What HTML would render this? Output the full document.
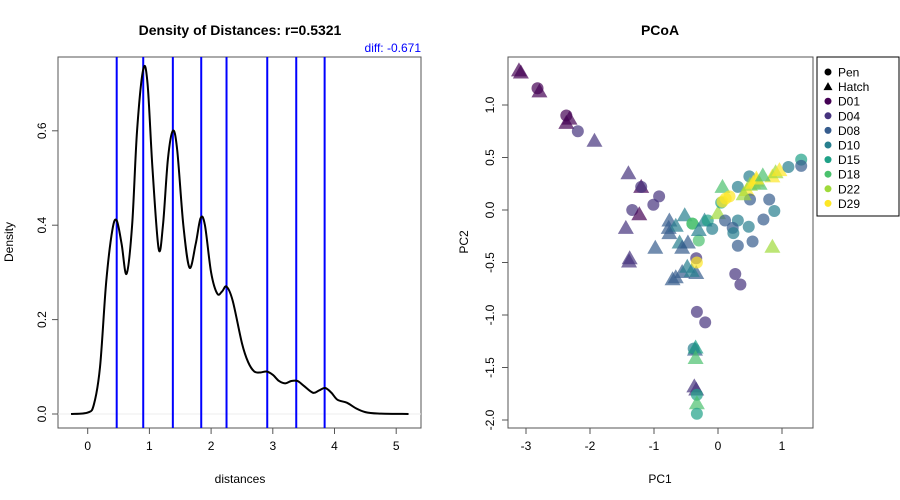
<!DOCTYPE html>
<html><head><meta charset="utf-8"><style>
body{margin:0;background:#fff;}
svg{display:block;font-family:"Liberation Sans",Arial,sans-serif;}
</style></head><body>
<svg id="c" width="900" height="500" viewBox="0 0 900 500">
<text x="240" y="35" text-anchor="middle" font-weight="bold" font-size="14">Density of Distances: r=0.5321</text>
<text x="421" y="52" text-anchor="end" font-size="12" fill="#0000ff">diff: -0.671</text>
<text x="240" y="483" text-anchor="middle" font-size="12">distances</text>
<text transform="translate(13,242) rotate(-90)" text-anchor="middle" font-size="12">Density</text>
<text x="660" y="35" text-anchor="middle" font-weight="bold" font-size="14">PCoA</text>
<text x="660" y="483" text-anchor="middle" font-size="12">PC1</text>
<text transform="translate(468,242) rotate(-90)" text-anchor="middle" font-size="12">PC2</text>
<g id="left"></g>
<g id="right"></g>
<g id="legend"></g>
</svg>
<script>
const densX=[-0.27,0,0.1,0.2,0.3,0.4,0.47,0.55,0.63,0.72,0.8,0.9,0.97,1.05,1.15,1.22,1.3,1.38,1.45,1.55,1.65,1.75,1.83,1.9,2.0,2.1,2.18,2.25,2.35,2.5,2.6,2.7,2.8,2.9,3.0,3.1,3.2,3.3,3.4,3.5,3.65,3.75,3.85,3.95,4.05,4.2,4.35,4.5,4.7,5.2];
const densY=[0,0.003,0.02,0.1,0.28,0.39,0.41,0.36,0.297,0.4,0.6,0.73,0.7,0.52,0.35,0.4,0.54,0.6,0.56,0.4,0.31,0.36,0.415,0.4,0.3,0.255,0.26,0.27,0.24,0.15,0.11,0.09,0.088,0.09,0.083,0.07,0.065,0.07,0.07,0.06,0.045,0.05,0.055,0.045,0.03,0.024,0.012,0.004,0.001,0];
const vlines=[0.47,0.90,1.38,1.84,2.25,2.91,3.38,3.84];
const lxTicks=[0,1,2,3,4,5];
const lyTicks=[0.0,0.2,0.4,0.6];
const groups=["D01","D04","D08","D10","D15","D18","D22","D29"];
const groupColors=["#440154","#46337E","#365C8D","#277F8E","#1FA187","#4AC16D","#9FDA3A","#FDE725"];
const pcX=[-3.11,-3.08,-2.82,-2.79,-2.37,-2.32,-2.37,-2.19,-1.93,-1.40,-1.20,-1.20,-0.92,-1.34,-1.23,-1.01,-1.44,-1.38,-1.39,-0.98,-0.76,-0.77,-0.66,-0.76,-0.52,-0.60,-0.47,-0.56,-0.71,-0.66,-0.56,-0.48,-0.40,-0.34,-0.41,-0.40,-0.30,-0.34,-0.33,-0.30,-0.21,-0.16,-0.09,0.0,0.07,0.05,0.07,0.12,0.18,0.31,0.49,0.45,0.5,0.55,0.6,0.65,0.85,0.9,0.96,1.1,1.30,1.30,0.5,0.8,0.88,0.71,0.85,0.54,0.48,0.31,0.23,0.24,0.31,0.11,0.27,0.35,-0.33,-0.20,-0.38,-0.36,-0.35,-0.35,-0.37,-0.34,-0.33,-0.33,-0.33,0.4,0.6,0.7];
const pcY=[1.33,1.31,1.16,1.13,0.90,0.87,0.83,0.75,0.66,0.35,0.22,0.22,0.13,0.0,-0.04,0.05,-0.17,-0.46,-0.49,-0.36,-0.10,-0.17,-0.15,-0.22,-0.05,-0.31,-0.31,-0.36,-0.66,-0.64,-0.59,-0.54,-0.13,-0.60,-0.58,-0.13,-0.29,-0.46,-0.50,-0.19,-0.10,-0.10,-0.18,-0.03,0.22,0.07,0.08,0.11,0.13,0.22,0.32,0.19,0.24,0.26,0.28,0.25,0.32,0.36,0.38,0.41,0.48,0.42,0.1,0.1,-0.01,-0.09,-0.35,-0.30,-0.16,-0.10,-0.17,-0.22,-0.34,-0.10,-0.61,-0.71,-0.97,-1.07,-1.32,-1.33,-1.31,-1.41,-1.68,-1.71,-1.76,-1.84,-1.94,0.15,0.3,0.33];
const pcShape=["t","t","c","t","c","t","t","c","t","t","t","c","c","c","t","c","t","t","t","t","t","t","t","t","t","t","t","t","t","t","t","t","c","t","t","c","c","c","c","t","t","c","c","t","t","c","c","c","c","c","c","t","t","t","t","t","t","t","t","c","c","c","c","c","c","c","t","c","c","c","c","c","c","c","c","c","c","c","c","t","t","t","t","t","c","t","c","t","t","t"];
const pcGroup=[0,0,0,0,0,0,0,1,1,1,0,1,1,1,0,1,1,1,1,2,2,2,3,2,3,3,2,2,2,2,2,3,5,2,3,5,5,1,7,3,3,4,3,6,5,4,7,7,7,3,3,7,6,7,7,5,7,6,7,3,4,2,2,2,3,2,6,2,3,3,2,3,2,2,1,1,1,1,3,2,4,5,1,1,4,5,4,6,7,5];

const NS="http://www.w3.org/2000/svg";
function mk(parent,tag,attrs){const e=document.createElementNS(NS,tag);for(const k in attrs)e.setAttribute(k,attrs[k]);parent.appendChild(e);return e;}

// LEFT
const L={x0:58,x1:421,y0:57,y1:428};
const lx=v=>87.7+v*61.7, ly=v=>414-v*472;
const left=document.getElementById('left');
let e=mk(left,'rect',{x:L.x0,y:L.y0,width:L.x1-L.x0,height:L.y1-L.y0,fill:'none',stroke:'#555'});


e=mk(left,'line',{x1:L.x0,x2:L.x1,y1:ly(0),y2:ly(0),stroke:'#eee'});


lxTicks.forEach(t=>{
 const x=lx(t);
 e=mk(left,'line',{x1:x,x2:x,y1:L.y1,y2:L.y1+6,stroke:'#555'});
 
 
 e=mk(left,'text',{x:x,y:L.y1+22,'text-anchor':'middle','font-size':12});e.textContent=t;
 
 
});
e=mk(left,'line',{x1:lx(0),x2:lx(5),y1:L.y1,y2:L.y1,stroke:'#555'});
lyTicks.forEach(t=>{
 const y=ly(t);
 e=mk(left,'line',{x1:L.x0,x2:L.x0-6,y1:y,y2:y,stroke:'#555'});
 
 
 e=mk(left,'text',{transform:`translate(${L.x0-12},${y}) rotate(-90)`,'text-anchor':'middle','font-size':12});e.textContent=t.toFixed(1);
 
 
});
vlines.forEach(v=>{
 e=mk(left,'line',{x1:lx(v),x2:lx(v),y1:L.y0,y2:L.y1,stroke:'#0000ff','stroke-width':2});
 
 
});
const P=densX.map((x,i)=>[lx(x),ly(densY[i])]);
let d=`M${P[0][0]},${P[0][1]}`;
for(let i=0;i<P.length-1;i++){
 const p0=P[Math.max(0,i-1)],p1=P[i],p2=P[i+1],p3=P[Math.min(P.length-1,i+2)];
 const c1=[p1[0]+(p2[0]-p0[0])/6,p1[1]+(p2[1]-p0[1])/6],c2=[p2[0]-(p3[0]-p1[0])/6,p2[1]-(p3[1]-p1[1])/6];
 d+=`C${c1[0]},${c1[1]} ${c2[0]},${c2[1]} ${p2[0]},${p2[1]}`;
}
e=mk(left,'path',{d:d,fill:'none',stroke:'#000','stroke-width':2});



// RIGHT
const R={x0:508,x1:813,y0:57,y1:428};
const rx=v=>718+v*64, ry=v=>210-v*105;
const right=document.getElementById('right');
e=mk(right,'rect',{x:R.x0,y:R.y0,width:R.x1-R.x0,height:R.y1-R.y0,fill:'none',stroke:'#555'});


[-3,-2,-1,0,1].forEach(t=>{
 const x=rx(t);
 e=mk(right,'line',{x1:x,x2:x,y1:R.y1,y2:R.y1+6,stroke:'#555'});
 
 
 e=mk(right,'text',{x:x,y:R.y1+22,'text-anchor':'middle','font-size':12});e.textContent=t;
 
 
});
e=mk(right,'line',{x1:rx(-3),x2:rx(1),y1:R.y1,y2:R.y1,stroke:'#555'});
[-2,-1.5,-1,-0.5,0,0.5,1].forEach(t=>{
 const y=ry(t);
 e=mk(right,'line',{x1:R.x0,x2:R.x0-6,y1:y,y2:y,stroke:'#555'});
 
 
 e=mk(right,'text',{transform:`translate(${R.x0-14},${y}) rotate(-90)`,'text-anchor':'middle','font-size':12});e.textContent=t.toFixed(1);
 
 
});
e=mk(right,'line',{x1:R.x0,x2:R.x0,y1:ry(-2),y2:ry(1),stroke:'#555'});
pcX.forEach((v,i)=>{
 const x=rx(v),y=ry(pcY[i]),col=groupColors[pcGroup[i]];
 if(pcShape[i]==='c'){
  e=mk(right,'circle',{cx:x,cy:y,r:6,fill:col,'fill-opacity':0.7});
  
 }else{
  e=mk(right,'polygon',{points:`${x},${y-8} ${x-8},${y+6} ${x+8},${y+6}`,fill:col,'fill-opacity':0.7});
  
 }
 
});

// LEGEND
const lg=document.getElementById('legend');
e=mk(lg,'rect',{x:817,y:57,width:82,height:159,fill:'#fff',stroke:'#000'});


const rows=["Pen","Hatch"].concat(groups);
rows.forEach((lab,i)=>{
 const y=72+i*14.6;
 if(i===0){e=mk(lg,'circle',{cx:828,cy:y,r:3.5,fill:'#000'});}
 else if(i===1){e=mk(lg,'polygon',{points:`828,${y-4.5} 823.5,${y+3.5} 832.5,${y+3.5}`,fill:'#000'});}
 else{e=mk(lg,'circle',{cx:828,cy:y,r:3.5,fill:groupColors[i-2]});}
 
 
 e=mk(lg,'text',{x:838,y:y+4.5,'font-size':12});e.textContent=lab;
 
 
});
</script>
</body></html>
